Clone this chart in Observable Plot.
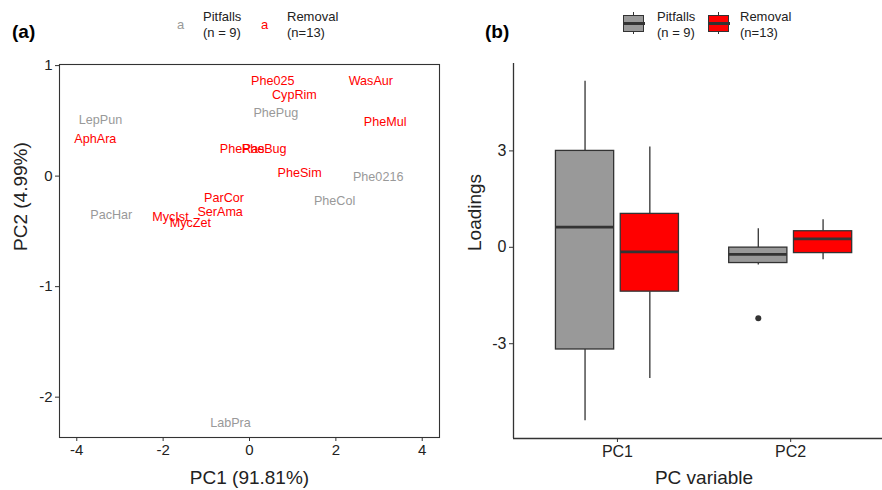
<!DOCTYPE html>
<html>
<head>
<meta charset="utf-8">
<script src="https://cdn.jsdelivr.net/npm/d3@7"></script>
<script src="https://cdn.jsdelivr.net/npm/@observablehq/plot@0.6"></script>
<style>
  body { margin: 0; background: #fff; font-family: "Liberation Sans", Arial, sans-serif; }
  #wrap { position: relative; width: 882px; height: 490px; overflow: hidden; background: #fff; }
  .abs { position: absolute; white-space: nowrap; }
  .panel { position: absolute; top: 0; }
  .lg { font-size: 13px; line-height: 16px; color: #222; }
  .plab { font-size: 19px; font-weight: bold; color: #000; }
</style>
</head>
<body>
<div id="wrap">
  <div id="left" class="panel" style="left:0px;"></div>
  <div id="right" class="panel" style="left:441px;"></div>

  <div class="abs plab" style="left:12px; top:21px;">(a)</div>
  <div class="abs plab" style="left:485px; top:21px;">(b)</div>

  <!-- legend (a) -->
  <div class="abs lg" style="left:177px; top:17px; color:#999;">a</div>
  <div class="abs lg" style="left:203px; top:9px;">Pitfalls<br>(n = 9)</div>
  <div class="abs lg" style="left:261px; top:17px; color:#ff0000;">a</div>
  <div class="abs lg" style="left:287px; top:9px;">Removal<br>(n=13)</div>

  <!-- legend (b) -->
  <div class="abs" style="left:633px; top:12px; width:1.3px; height:22px; background:#333;"></div>
  <div class="abs" style="left:623px; top:15px; width:19px; height:15px; background:#999; border:1.3px solid #333;"></div>
  <div class="abs" style="left:623px; top:22px; width:21.6px; height:2.5px; background:#333;"></div>
  <div class="abs lg" style="left:657px; top:9px;">Pitfalls<br>(n = 9)</div>
  <div class="abs" style="left:718px; top:12px; width:1.3px; height:22px; background:#333;"></div>
  <div class="abs" style="left:708px; top:15px; width:19px; height:15px; background:#ff0000; border:1.3px solid #333;"></div>
  <div class="abs" style="left:708px; top:22px; width:21.6px; height:2.5px; background:#333;"></div>
  <div class="abs lg" style="left:740px; top:9px;">Removal<br>(n=13)</div>
</div>
<script>
// ---------- Panel (a): PCA scores ----------
const taxa   = ["LepPun","AphAra","PacHar","MycIst","MycZet","SerAma","ParCor","Phe025","CypRim","PhePug","WasAur","PheMul","PheRas","PheBug","PheSim","Phe0216","PheCol","LabPra"];
const pc1    = [-3.45, -3.57, -3.2, -1.83, -1.37, -0.68, -0.59, 0.54, 1.04, 0.61, 2.81, 3.14, -0.17, 0.34, 1.16, 2.98, 1.97, -0.44];
const pc2    = [0.51, 0.34, -0.35, -0.37, -0.425, -0.32, -0.2, 0.86, 0.73, 0.57, 0.857, 0.49, 0.248, 0.248, 0.027, -0.01, -0.226, -2.23];
const method = ["Pitfalls","Removal","Pitfalls","Removal","Removal","Removal","Removal","Removal","Removal","Pitfalls","Removal","Removal","Removal","Removal","Removal","Pitfalls","Pitfalls","Pitfalls"];
const xTicksA = [-4, -2, 0, 2, 4];
const yTicksA = [-2, -1, 0, 1];

// ---------- Panel (b): loading box plots ----------
const pcVars     = ["PC1", "PC2"];
const boxPC      = ["PC1", "PC1", "PC2", "PC2"];
const boxGroup   = ["Pitfalls", "Removal", "Pitfalls", "Removal"];
const whiskerLo  = [-5.4, -4.08, -0.55, -0.39];
const q1         = [-3.18, -1.38, -0.49, -0.18];
const medians    = [0.63, -0.14, -0.22, 0.26];
const q3         = [3.0, 1.04, -0.01, 0.5];
const whiskerHi  = [5.17, 3.12, 0.58, 0.86];
const outlierPC    = ["PC2"];
const outlierGroup = ["Pitfalls"];
const outlierVal   = [-2.21];
const yTicksB = [-3, 0, 3];

const groupColor = {Pitfalls: "#999999", Removal: "#ff0000"};
const groupFill  = {Pitfalls: "#999999", Removal: "#ff0000"};
const FONT = "'Liberation Sans', Arial, sans-serif";

const pca = taxa.map((t, i) => ({taxon: t, pc1: pc1[i], pc2: pc2[i], method: method[i]}));

const left = Plot.plot({
  width: 441, height: 490,
  marginLeft: 59, marginRight: 2, marginTop: 64, marginBottom: 53,
  style: {fontFamily: FONT, color: "#222", background: "transparent", overflow: "visible"},
  x: {domain: [-4.4, 4.4]},
  y: {domain: [-2.365, 1.01]},
  marks: [
    Plot.frame({stroke: "#333", strokeWidth: 1.1}),
    Plot.axisX({ticks: xTicksA, tickSize: 4, tickPadding: 3, fontSize: 15, label: null, tickFormat: d => String(d), stroke: "#333"}),
    Plot.axisY({ticks: yTicksA, tickSize: 4, tickPadding: 3, fontSize: 15, label: null, tickFormat: d => String(d), stroke: "#333"}),
    Plot.text(pca, {x: "pc1", y: "pc2", text: "taxon", fill: d => groupColor[d.method], fontSize: 12.6}),
    Plot.text(["PC1 (91.81%)"], {text: d => d, frameAnchor: "bottom", lineAnchor: "middle", dy: 40, fontSize: 19, fill: "#222"}),
    Plot.text(["PC2 (4.99%)"], {text: d => d, frameAnchor: "left", lineAnchor: "middle", rotate: -90, dx: -39, fontSize: 19, fill: "#222"})
  ]
});
document.getElementById("left").appendChild(left);

const dodge = {Pitfalls: -0.187, Removal: 0.187};
const halfW = 0.168;
const pcIndex = v => pcVars.indexOf(v) + 1;
const boxes = boxPC.map((p, i) => {
  const xc = pcIndex(p) + dodge[boxGroup[i]];
  return {xc, x1: xc - halfW, x2: xc + halfW, group: boxGroup[i],
          lo: whiskerLo[i], q1: q1[i], med: medians[i], q3: q3[i], hi: whiskerHi[i]};
});
const outliers = outlierPC.map((p, i) => ({x: pcIndex(p) + dodge[outlierGroup[i]], y: outlierVal[i]}));
const xDom = [0.4, 2.53];
const yDom = [-5.95, 5.72];

const right = Plot.plot({
  width: 441, height: 490,
  marginLeft: 72, marginRight: 0, marginTop: 63, marginBottom: 52,
  style: {fontFamily: FONT, color: "#222", background: "transparent", overflow: "visible"},
  x: {domain: xDom},
  y: {domain: yDom},
  marks: [
    Plot.ruleX([xDom[0]], {stroke: "#333", strokeWidth: 1.3}),
    Plot.ruleY([yDom[0]], {stroke: "#333", strokeWidth: 1.3}),
    Plot.axisX({ticks: pcVars.map(pcIndex), tickFormat: d => pcVars[d - 1], tickSize: 4, tickPadding: 3, fontSize: 16, label: null, stroke: "#333"}),
    Plot.axisY({ticks: yTicksB, tickSize: 4, tickPadding: 3, fontSize: 16, label: null, tickFormat: d => String(d), stroke: "#333"}),
    Plot.ruleX(boxes, {x: "xc", y1: "lo", y2: "q1", stroke: "#333", strokeWidth: 1.3}),
    Plot.ruleX(boxes, {x: "xc", y1: "q3", y2: "hi", stroke: "#333", strokeWidth: 1.3}),
    Plot.rect(boxes, {x1: "x1", x2: "x2", y1: "q1", y2: "q3", fill: d => groupFill[d.group], stroke: "#333", strokeWidth: 1.3}),
    Plot.ruleY(boxes, {x1: "x1", x2: "x2", y: "med", stroke: "#333", strokeWidth: 2.8}),
    Plot.dot(outliers, {x: "x", y: "y", r: 3, fill: "#333", stroke: null}),
    Plot.text(["PC variable"], {text: d => d, frameAnchor: "bottom", lineAnchor: "middle", dy: 39, dx: 6, fontSize: 19, fill: "#222"}),
    Plot.text(["Loadings"], {text: d => d, frameAnchor: "left", lineAnchor: "middle", rotate: -90, dx: -39, fontSize: 19, fill: "#222"})
  ]
});
document.getElementById("right").appendChild(right);
</script>
</body>
</html>
